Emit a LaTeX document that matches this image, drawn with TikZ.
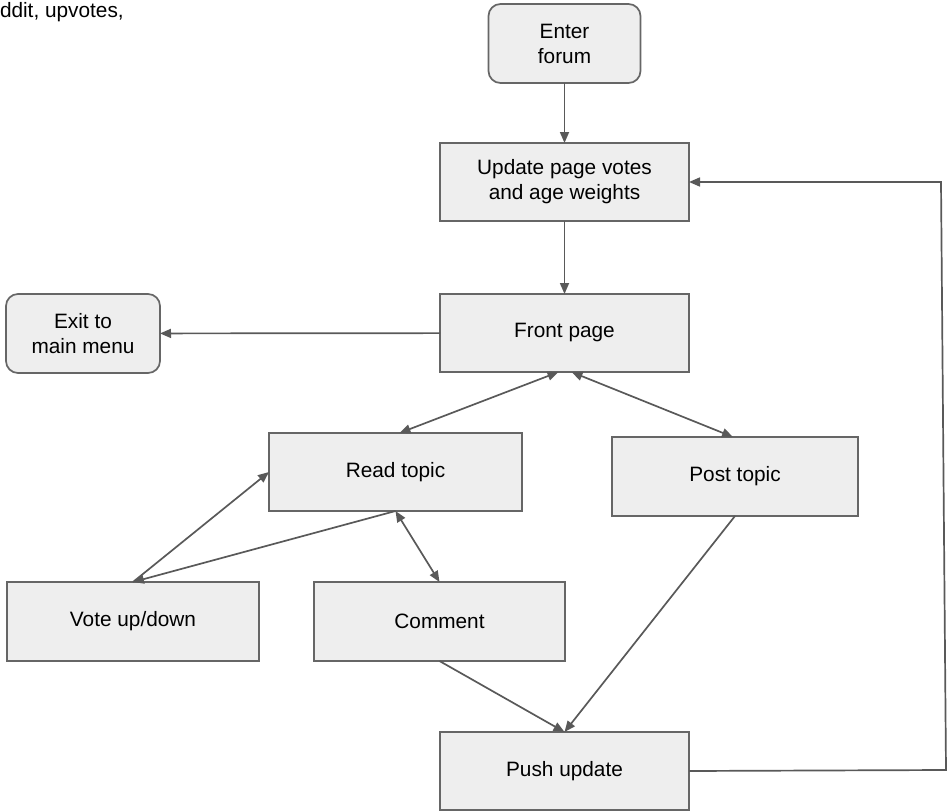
\documentclass[tikz,border=0pt]{standalone}
\usepackage{fontspec}
\setmainfont{Liberation Sans}
\usetikzlibrary{arrows.meta}
\definecolor{boxfill}{HTML}{EEEEEE}
\definecolor{boxline}{HTML}{666666}
\definecolor{arrowline}{HTML}{595959}
\begin{document}
\begin{tikzpicture}[x=1pt,y=-1pt,inner sep=0pt,outer sep=0pt,
font=\fontsize{20.8}{25}\selectfont,
stepbox/.style={draw=boxline,fill=boxfill,rectangle,line width=1.7pt,minimum width=249pt,minimum height=78pt,align=center},
endbox/.style={stepbox,rounded corners=12pt,minimum width=152pt,minimum height=79pt},
flow/.style={draw=arrowline,line width=1.7pt,-{Triangle[length=11pt,width=9pt]}},
bothflow/.style={flow,{Triangle[length=11pt,width=9pt]}-{Triangle[length=11pt,width=9pt]}}]
\useasboundingbox (0,0) rectangle (951,811);

\draw (0,17.5) node[anchor=base west] (cut) {ddit, upvotes,};

\draw (564.5,43.5) node[endbox] (enter) {Enter\\forum};
\draw (564.5,182) node[stepbox] (update) {Update page votes\\and age weights};
\draw (564.5,333) node[stepbox] (front) {Front page};
\draw (83,333.5) node[endbox,minimum width=154pt] (exit) {Exit to\\main menu};
\draw (395.5,472) node[stepbox,minimum width=253pt] (read) {Read topic};
\draw (735,476.5) node[stepbox,minimum width=246pt,minimum height=79pt] (post) {Post topic};
\draw (133,621.5) node[stepbox,minimum width=252pt,minimum height=79pt] (vote) {Vote up/down};
\draw (439.5,621.5) node[stepbox,minimum width=251pt,minimum height=79pt] (comment) {Comment};
\draw (564.5,771) node[stepbox] (push) {Push update};

\coordinate (back1) at (946,770);
\coordinate (back2) at (941,182);

\draw[flow] (enter) -- (update);
\draw[flow] (update) -- (front);
\draw[flow] (front) -- (exit);
\draw[bothflow] ([xshift=-6pt]front.south) -- ([xshift=4pt]read.north);
\draw[bothflow] ([xshift=7pt]front.south) -- ([xshift=-2pt]post.north);
\draw[flow] (vote.north) -- (read.west);
\draw[flow] (read.south) -- (vote.north);
\draw[bothflow] (read.south) -- (comment.north);
\draw[flow] (comment.south) -- (push.north);
\draw[flow] (post.south) -- (push.north);
\draw[flow] (push.east) -- (back1) -- (back2) -- (update.east);
\end{tikzpicture}
\end{document}
